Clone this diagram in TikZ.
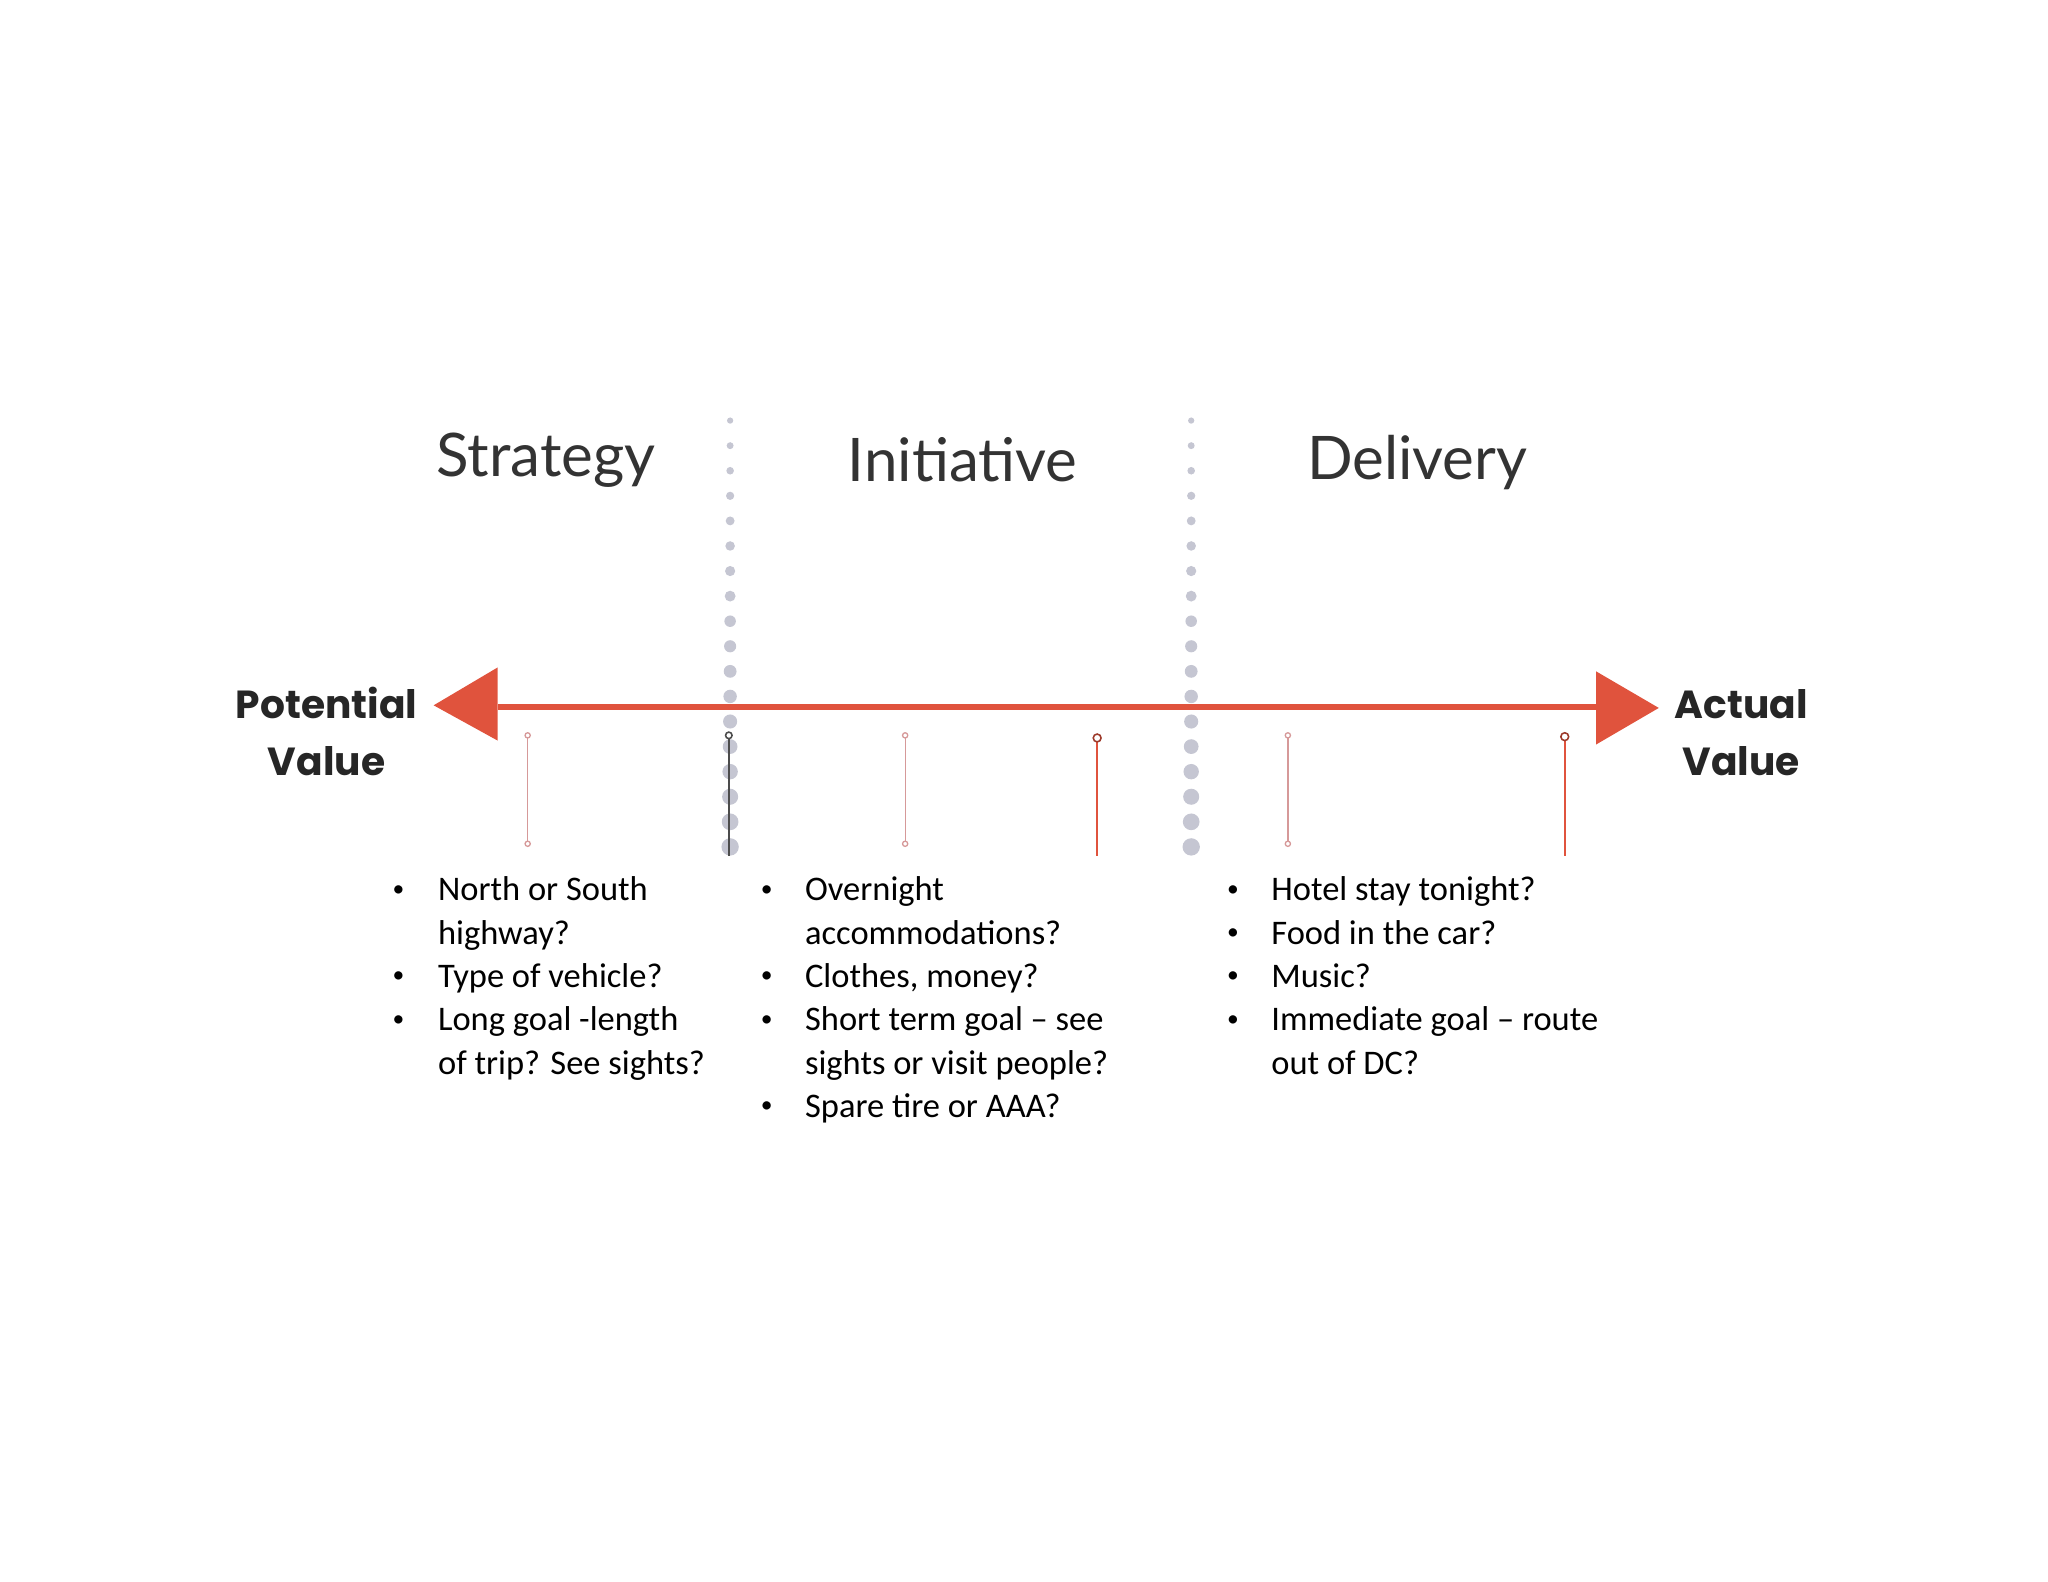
\documentclass[tikz,border=0pt]{standalone}
\usepackage{fontspec}
\setmainfont{Carlito}
\newfontfamily\titlef{Lato}
\newfontfamily\boldf{Poppins}
\begin{document}
\begin{tikzpicture}[x=0.5pt,y=-0.5pt,
  ttl/.style={font=\titlef\fontsize{23}{26}\selectfont, text=black!80},
  pv/.style={font=\boldf\bfseries\fontsize{15}{22}\selectfont, align=center, text=black!85},
  bl/.style={font=\fontsize{13.2}{16.6}\selectfont, anchor=north west, inner sep=0pt, align=left},
  bu/.style={font=\fontsize{9}{10}\selectfont, inner sep=0pt},
  stem/.style={draw=red!60!black!40, line width=0.5pt}]
\definecolor{arrc}{HTML}{E0533D}
\definecolor{dotc}{HTML}{C5C6D2}
\useasboundingbox (0,0) rectangle (1568,1211);
% dotted separators
\foreach \cx in {559,912}{
  \foreach \i in {0,...,17}{
    \fill[dotc] (\cx,{322+\i*19.2}) circle ({2.4+\i*0.25});
  }
}
% stems
\draw[stem] (404,565) -- (404,644);
\draw[stem] (404,563) circle (2);
\draw[stem] (404,646) circle (2);
\draw[stem] (693,565) -- (693,644);
\draw[stem] (693,563) circle (2);
\draw[stem] (693,646) circle (2);
\draw[stem] (986,565) -- (986,644);
\draw[stem] (986,563) circle (2);
\draw[stem] (986,646) circle (2);
\draw[draw=black!70, line width=0.8pt] (558,566) -- (558,655);
\draw[draw=black!70, line width=0.6pt] (558,563) circle (2.5);
\draw[draw=arrc, line width=0.9pt] (840,568) -- (840,655);
\draw[draw=arrc!70!black, line width=0.6pt] (840,565) circle (3);
\draw[draw=arrc, line width=0.9pt] (1198,567) -- (1198,655);
\draw[draw=arrc!70!black, line width=0.6pt] (1198,564) circle (3);
% main arrow
\coordinate (L) at (381,541);
\coordinate (R) at (1222,541);
\draw[draw=arrc, line width=2.2pt] (L) -- (R);
\fill[arrc] (332,540) -- (381,511) -- (381,567) -- cycle;
\fill[arrc] (1270,542) -- (1222,514) -- (1222,570) -- cycle;
% titles
\node[ttl] (s) at (418,352) {Strategy};
\node[ttl] (i) at (737,352) {Initiative};
\node[ttl] (d) at (1085,354) {Delivery};
\node[pv] (pv) at (250,560) {Potential\\Value};
\node[pv] (av) at (1333,561) {Actual\\Value};
% bullets
\foreach \x/\y in {305/682,305/748,305/782,587/682,587/748,587/782,587/848,944/682,944/715,944/748,944/782}{
  \node[bu] at (\x,\y) {•};
}
\node[bl] (b1) at (335,671) {North or South\\highway?\\Type of vehicle?\\Long goal -length\\of trip? See sights?};
\node[bl] (b2) at (616,671) {Overnight\\accommodations?\\Clothes, money?\\Short term goal – see\\sights or visit people?\\Spare tire or AAA?};
\node[bl] (b3) at (973,671) {Hotel stay tonight?\\Food in the car?\\Music?\\Immediate goal – route\\out of DC?};
\end{tikzpicture}
\end{document}
